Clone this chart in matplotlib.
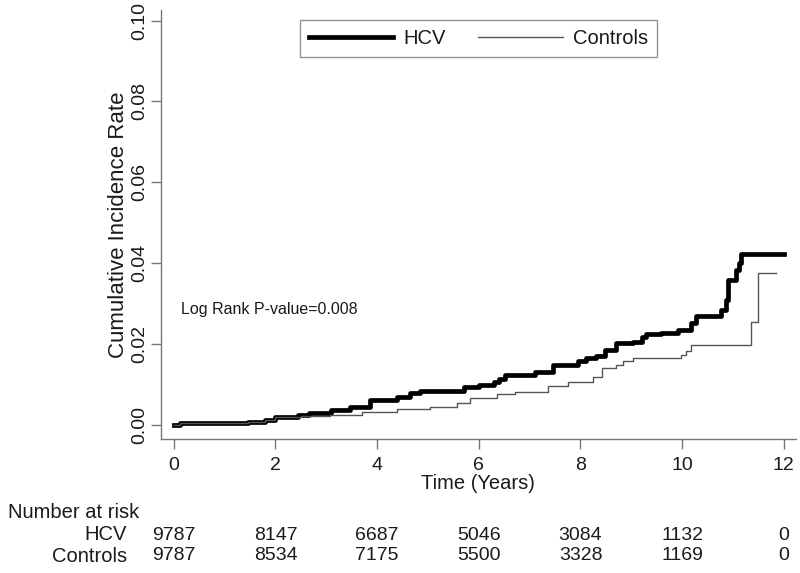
import numpy as np
import matplotlib.pyplot as plt
from matplotlib.transforms import blended_transform_factory

plt.rcParams['font.family'] = ['Liberation Sans', 'DejaVu Sans']

# step curves (time in years, cumulative incidence)
hcv_t = [0, 0.12, 1.46, 1.8, 2.0, 2.44, 2.65, 3.1, 3.47, 3.86, 4.39, 4.65, 4.85, 5.7,
         6.0, 6.29, 6.4, 6.52, 7.11, 7.45, 7.96, 8.1, 8.3, 8.49, 8.69, 9.03, 9.22, 9.28,
         9.58, 9.91, 10.17, 10.27, 10.76, 10.86, 10.9, 11.05, 11.11, 11.15, 12.0]
hcv_y = [0, 0.0005, 0.0008, 0.0012, 0.002, 0.0025, 0.003, 0.0037, 0.0045, 0.0062, 0.0069,
         0.0079, 0.0084, 0.0094, 0.0099, 0.0106, 0.0113, 0.0124, 0.0131, 0.0148, 0.0157,
         0.0166, 0.0169, 0.0186, 0.0203, 0.0206, 0.0218, 0.0225, 0.0227, 0.0235, 0.0252,
         0.0268, 0.0285, 0.0309, 0.0359, 0.0384, 0.04, 0.0423, 0.0423]

ctl_t = [0, 0.12, 1.46, 1.8, 2.0, 2.5, 3.07, 3.7, 4.4, 5.04, 5.57, 5.83, 6.36, 6.72,
         7.37, 7.76, 8.24, 8.43, 8.69, 8.83, 9.03, 9.97, 10.07, 10.17, 11.35, 11.49, 11.84]
ctl_y = [0, 0.0005, 0.0008, 0.0012, 0.0018, 0.0022, 0.0025, 0.0032, 0.0039, 0.0045, 0.0054,
         0.0066, 0.0077, 0.0082, 0.0097, 0.0106, 0.0119, 0.0141, 0.0149, 0.0157, 0.0164,
         0.0173, 0.0183, 0.0198, 0.0255, 0.0376, 0.0376]

risk_times = [0, 2, 4, 6, 8, 10, 12]
risk_hcv = [9787, 8147, 6687, 5046, 3084, 1132, 0]
risk_ctl = [9787, 8534, 7175, 5500, 3328, 1169, 0]

grey = '#777777'
txt = '#1a1a1a'

fig = plt.figure(figsize=(8, 5.73), dpi=100)
ax = fig.add_axes([0.201, 0.234, 0.794, 0.749])

ax.step(hcv_t, hcv_y, where='post', color='black', lw=3.4, label='HCV')
ax.step(ctl_t, ctl_y, where='post', color='#555555', lw=1.0, label='Controls')

ax.set_xlim(-0.256, 12.24)
ax.set_ylim(-0.0035, 0.1027)
ax.set_xticks(range(0, 13, 2))
ax.set_yticks(np.arange(0, 0.101, 0.02))
ax.set_yticklabels([f'{v:.2f}' for v in np.arange(0, 0.101, 0.02)],
                   rotation=90, va='center')

for s in ['top', 'right']:
    ax.spines[s].set_visible(False)
for s in ['left', 'bottom']:
    ax.spines[s].set_color(grey)
    ax.spines[s].set_linewidth(1.0)
ax.tick_params(colors=grey, labelcolor=txt, length=7, width=1.0, labelsize=14)
ax.tick_params(axis='x', pad=6)
ax.tick_params(axis='y', pad=2)

ax.set_xlabel('Time (Years)', fontsize=14.5, color=txt, labelpad=0)
ax.set_ylabel('Cumulative Incidence Rate', fontsize=16, color=txt, labelpad=2)

ax.text(0.14, 0.0285, 'Log Rank P-value=0.008', fontsize=11.5, color=txt,
        ha='left', va='center')

leg = ax.legend(loc='upper center', bbox_to_anchor=(0.5, 0.985), ncol=2,
                fontsize=14.5, frameon=True, fancybox=False, edgecolor=grey,
                handlelength=4.2, handletextpad=0.5, columnspacing=1.6,
                borderpad=0.45, borderaxespad=0.2)
leg.get_frame().set_linewidth(1.0)
for t in leg.get_texts():
    t.set_color(txt)

# number at risk table
tr = blended_transform_factory(ax.transData, fig.transFigure)
fig.text(8 / 800, 1 - 512 / 573, 'Number at risk', fontsize=14.5, color=txt,
         ha='left', va='center')
fig.text(127 / 800, 1 - 535 / 573, 'HCV', fontsize=14.5, color=txt, ha='right', va='center')
fig.text(127 / 800, 1 - 556 / 573, 'Controls', fontsize=14.5, color=txt, ha='right', va='center')
for t, a, b in zip(risk_times, risk_hcv, risk_ctl):
    ax.text(t, 1 - 535 / 573, str(a), transform=tr, fontsize=14, color=txt,
            ha='center', va='center')
    ax.text(t, 1 - 556 / 573, str(b), transform=tr, fontsize=14, color=txt,
            ha='center', va='center')

fig.savefig('out.png', dpi=100)
